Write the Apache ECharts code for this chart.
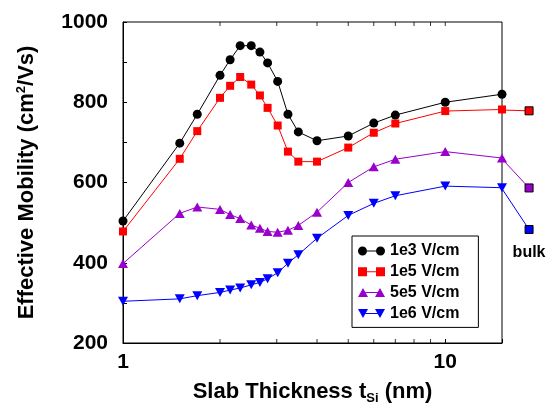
<!DOCTYPE html>
<html><head><meta charset="utf-8">
<script src="https://cdn.jsdelivr.net/npm/echarts@6/dist/echarts.min.js"></script>
<style>html,body{margin:0;padding:0;background:#fff}#c{width:548px;height:410px}</style>
</head><body><div id="c"></div>
<script>
// ---- data ----
const thickness = [1, 1.5, 1.7, 2, 2.15, 2.31, 2.5, 2.66, 2.81, 3.02, 3.25, 3.5, 4, 5, 6, 7, 10, 15];
const mob1e3 = [504, 698, 770, 867, 906, 941, 941, 925, 898, 852, 770, 726, 704, 716, 748, 768, 800, 820];
const mob1e5 = [478, 659, 728, 811, 841, 863, 844, 817, 786, 742, 677, 652, 652, 687, 724, 747, 778, 782];
const mob5e5 = [398, 523, 539, 533, 520, 510, 494, 486, 478, 476, 481, 493, 526, 600, 639, 658, 677, 661];
const mob1e6 = [304, 310, 318, 326, 332, 337, 345, 351, 360, 375, 399, 420, 461, 518, 548, 567, 591, 587];
const bulkX = 18.2;
const bulk1e5 = 780, bulk5e5 = 589, bulk1e6 = 486;
const seriesNames = ['1e3 V/cm', '1e5 V/cm', '5e5 V/cm', '1e6 V/cm'];
const xTickLabels = [1, 10];
const minorTicksBottom = [2, 3, 4, 5, 6, 7, 8, 9];
const minorTicksTop = [2, 3, 4, 5, 6, 7, 8, 9, 10];
const yMin = 200, yMax = 1000, yStep = 200;
const xMin = 1, xMax = 15;

const FONT = "'Liberation Sans', Arial, Helvetica, sans-serif";
const colors = ['#000000', '#ff0000', '#9900cc', '#0000ff'];

// layout
const W = 548, gridLeft = 123, gridRight = 46;
const pxPerDecade = (W - gridLeft - gridRight) / Math.log10(xMax / xMin);
const x2Max = xMax * Math.pow(10, gridRight / pxPerDecade);

const icons = [
  'path://M0,4.5A4.5,4.5,0,1,1,9,4.5A4.5,4.5,0,1,1,0,4.5ZM18,4.5A4.5,4.5,0,1,1,27,4.5A4.5,4.5,0,1,1,18,4.5ZM9,4L18,4L18,5L9,5Z',
  'path://M0,0L9,0L9,9L0,9ZM18,0L27,0L27,9L18,9ZM9,4L18,4L18,5L9,5Z',
  'path://M0,9L5,0L10,9ZM17,9L22,0L27,9ZM7.5,4L19.5,4L19.5,5L7.5,5Z',
  'path://M0,0L10,0L5,9ZM17,0L27,0L22,9ZM7.5,4L19.5,4L19.5,5L7.5,5Z'
];
const symbolDefs = [
  { symbol: 'circle', symbolSize: 9, symbolRotate: 0 },
  { symbol: 'rect', symbolSize: 8, symbolRotate: 0 },
  { symbol: 'triangle', symbolSize: [10, 9], symbolRotate: 0 },
  { symbol: 'triangle', symbolSize: [10, 9], symbolRotate: 180 }
];
const allVals = [mob1e3, mob1e5, mob5e5, mob1e6];
const bulks = [null, bulk1e5, bulk5e5, bulk1e6];

const series = allVals.map((vals, i) => ({
  name: seriesNames[i],
  type: 'line',
  data: thickness.map((t, k) => [t, vals[k]]),
  symbol: symbolDefs[i].symbol,
  symbolSize: symbolDefs[i].symbolSize,
  symbolRotate: symbolDefs[i].symbolRotate,
  showAllSymbol: true,
  clip: false,
  z: 10 - i,
  lineStyle: { color: colors[i], width: 1 },
  itemStyle: { color: colors[i], borderWidth: 0 },
  emphasis: { disabled: true },
  animation: false
}));

// connectors to bulk values (drawn in the strip right of the frame)
allVals.forEach((vals, i) => {
  if (bulks[i] == null) return;
  const last = vals.length - 1;
  const bulkItem = {
    value: [bulkX, bulks[i]], symbol: 'rect', symbolSize: 8,
    itemStyle: { color: colors[i], borderColor: '#000', borderWidth: 1 }
  };
  if (i === 3) {
    bulkItem.label = { show: true, position: 'bottom', distance: 11, formatter: 'bulk',
      fontFamily: FONT, fontSize: 16, fontWeight: 'bold', color: '#000' };
  }
  series.push({
    name: seriesNames[i] + ' bulk', type: 'line', xAxisIndex: 1, yAxisIndex: 1,
    data: [{ value: [thickness[last], vals[last]], symbol: 'none' }, bulkItem],
    showAllSymbol: true, clip: false, z: 10 - i,
    lineStyle: { color: colors[i], width: 1 },
    itemStyle: { color: colors[i] },
    emphasis: { disabled: true }, animation: false, silent: true
  });
});

series.push({
  name: 'ticksBottom', type: 'scatter', silent: true, animation: false,
  data: minorTicksBottom.map(v => [v, yMin]),
  symbol: 'rect', symbolSize: [1, 4], symbolOffset: [0, -2],
  itemStyle: { color: '#000' }, z: 20
});
series.push({
  name: 'ticksTop', type: 'scatter', silent: true, animation: false,
  data: minorTicksTop.map(v => [v, yMax]),
  symbol: 'rect', symbolSize: [1, 4], symbolOffset: [0, 2],
  itemStyle: { color: '#000' }, z: 20
});

const chart = echarts.init(document.getElementById('c'), null, { renderer: 'canvas' });
chart.setOption({
  animation: false,
  backgroundColor: '#fff',
  textStyle: { fontFamily: FONT },
  grid: [
    { left: gridLeft, right: gridRight, top: 22, bottom: 65, show: true, borderColor: '#000', borderWidth: 1, backgroundColor: 'transparent' },
    { left: W - gridRight, right: 0, top: 22, bottom: 65, show: false }
  ],
  legend: {
    orient: 'vertical', left: 352, top: 236,
    data: seriesNames.map((n, i) => ({ name: n, icon: icons[i] })),
    itemWidth: 27, itemHeight: 9, itemGap: 4.8,
    padding: [7, 19, 6, 6],
    borderColor: '#000', borderWidth: 1, backgroundColor: '#fff',
    textStyle: { fontFamily: FONT, fontSize: 16, fontWeight: 'bold', color: '#000' },
    itemStyle: { borderWidth: 0 },
    selectedMode: false
  },
  xAxis: [{
    type: 'log', logBase: 10, min: xMin, max: xMax, gridIndex: 0,
    name: '{t|Slab Thickness t}{s|Si}{t| (nm)}',
    nameLocation: 'middle', nameGap: 36,
    nameTextStyle: { color: '#000', rich: {
      t: { fontFamily: FONT, fontSize: 22, fontWeight: 'bold', color: '#000', lineHeight: 26 },
      s: { fontFamily: FONT, fontSize: 13, fontWeight: 'bold', color: '#000', verticalAlign: 'bottom', lineHeight: 26 }
    } },
    axisLine: { lineStyle: { color: '#000', width: 1 } },
    axisTick: { inside: true, length: 4, lineStyle: { color: '#000' } },
    axisLabel: {
      margin: 9, fontFamily: FONT, fontSize: 21, fontWeight: 'bold', color: '#000',
      formatter: v => { for (const t of xTickLabels) { if (Math.abs(v - t) < 1e-6) return String(t); } return ''; }
    },
    splitLine: { show: false }, minorTick: { show: false }
  }, {
    type: 'log', logBase: 10, min: xMax, max: x2Max, gridIndex: 1, show: false
  }],
  yAxis: [{
    type: 'value', min: yMin, max: yMax, interval: yStep, gridIndex: 0,
    name: '{t|Effective Mobility (cm}{s|2}{t|/Vs)}',
    nameLocation: 'middle', nameGap: 84,
    nameTextStyle: { color: '#000', rich: {
      t: { fontFamily: FONT, fontSize: 22, fontWeight: 'bold', color: '#000', lineHeight: 24 },
      s: { fontFamily: FONT, fontSize: 13, fontWeight: 'bold', color: '#000', verticalAlign: 'top', lineHeight: 24 }
    } },
    axisLine: { lineStyle: { color: '#000', width: 1 } },
    axisTick: { inside: true, length: 4, lineStyle: { color: '#000' } },
    minorTick: { show: true, splitNumber: 2, length: 4, lineStyle: { color: '#000' } },
    axisLabel: { margin: 15, fontFamily: FONT, fontSize: 21, fontWeight: 'bold', color: '#000',
      formatter: v => String(v) },
    splitLine: { show: false }, minorSplitLine: { show: false }
  }, {
    type: 'value', min: yMin, max: yMax, gridIndex: 1, show: false
  }],
  series: series
});
</script></body></html>
